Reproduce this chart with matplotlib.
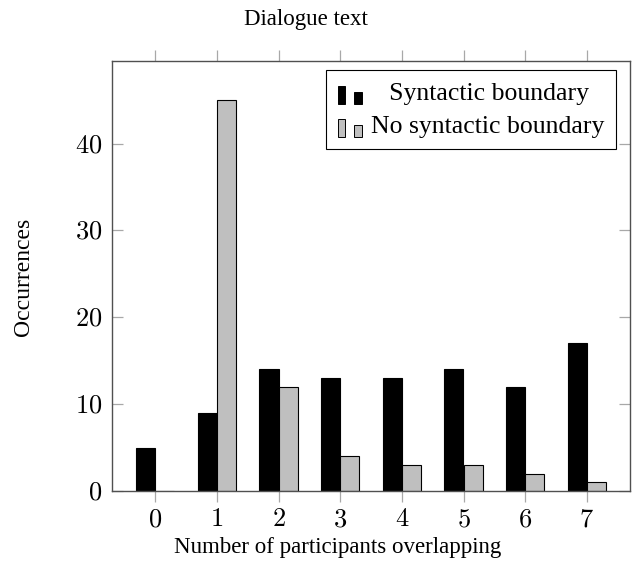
import matplotlib
matplotlib.use("Agg")
import matplotlib.pyplot as plt
import numpy as np
from matplotlib.patches import Rectangle
from matplotlib.legend_handler import HandlerBase
from matplotlib.ticker import FuncFormatter

participants = [0, 1, 2, 3, 4, 5, 6, 7]
syntactic = [5, 9, 14, 13, 13, 14, 12, 17]
no_syntactic = [0, 45, 12, 4, 3, 3, 2, 1]
series_labels = ["  \u2009Syntactic boundary", "No syntactic boundary"]

plt.rcParams["font.family"] = ["Liberation Serif", "DejaVu Serif"]
plt.rcParams["mathtext.fontset"] = "cm"


class TwoBarHandler(HandlerBase):
    # pgfplots-style ybar legend image: two small bars
    def create_artists(self, legend, orig_handle, xdescent, ydescent,
                       width, height, fontsize, trans):
        fc = orig_handle.patches[0].get_facecolor()
        y0 = -ydescent - 3
        r1 = Rectangle((-xdescent, y0), width * 0.28, height * 1.0,
                       facecolor=fc, edgecolor="black", lw=0.7, transform=trans)
        r2 = Rectangle((-xdescent + width * 0.64, y0), width * 0.3,
                       height * 0.68, facecolor=fc, edgecolor="black", lw=0.7,
                       transform=trans)
        return [r1, r2]


fig = plt.figure(figsize=(6.34, 5.63), dpi=100)
ax = fig.add_axes([112 / 634, 1 - 491 / 563, 518 / 634, 430 / 563])

x = np.array(participants)
w = 0.31
b1 = ax.bar(x - w / 2, syntactic, w, color="black", edgecolor="black",
            linewidth=0.8, label=series_labels[0])
b2 = ax.bar(x + w / 2, no_syntactic, w, color="#bfbfbf", edgecolor="black",
            linewidth=0.8, label=series_labels[1])

ax.set_xlim(-0.7, 7.7)
ax.set_ylim(0, 49.5)
ax.set_xticks(participants)
ax.set_yticks([0, 10, 20, 30, 40])
fmt = FuncFormatter(lambda v, p: f"${v:g}$")
ax.xaxis.set_major_formatter(fmt)
ax.yaxis.set_major_formatter(fmt)

for s in ax.spines.values():
    s.set_color("#505050")
    s.set_linewidth(1.0)

ax.tick_params(axis="x", which="both", direction="out", top=True, bottom=True,
               labeltop=False, length=8, width=0.9, color="#a8a8a8",
               labelsize=19, pad=5)
ax.tick_params(axis="y", which="both", direction="in", left=True, right=True,
               length=8, width=0.9, color="#a8a8a8", labelsize=19, pad=7)

leg = ax.legend(handles=[b1, b2], labels=series_labels,
                handler_map={b1: TwoBarHandler(), b2: TwoBarHandler()},
                loc="upper right", bbox_to_anchor=(0.973, 0.979),
                fontsize=18.5, frameon=True, fancybox=False, framealpha=1,
                edgecolor="black", handlelength=1.0, handletextpad=0.28,
                borderpad=0.46, labelspacing=0.38, borderaxespad=0)
leg.get_frame().set_linewidth(0.8)

fig.text(306 / 634, 1 - 20 / 563, "Dialogue text", ha="center", va="center",
         fontsize=16.5)
fig.text(338 / 634, 1 - 548 / 563, "Number of participants overlapping",
         ha="center", va="center", fontsize=16.5)
fig.text(24 / 634, 1 - 277 / 563, "Occurrences", ha="center", va="center",
         rotation=90, fontsize=17)

fig.savefig("out.png", dpi=100)
